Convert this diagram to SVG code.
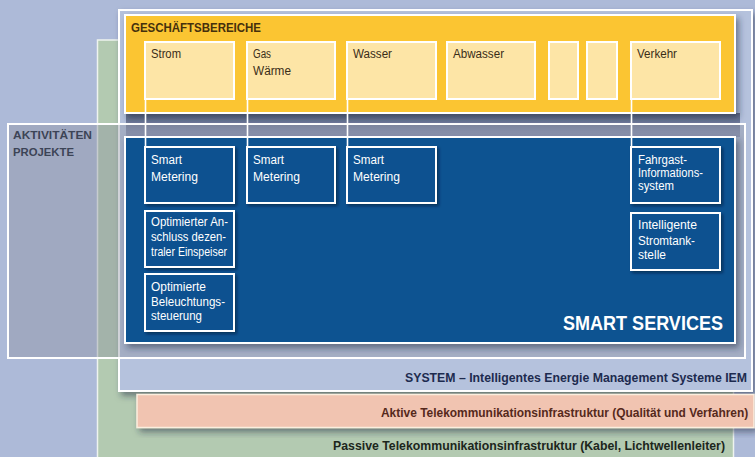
<svg xmlns="http://www.w3.org/2000/svg" width="755" height="457" viewBox="0 0 755 457">
<defs>
<filter id="sh" x="-10%" y="-10%" width="130%" height="140%">
<feDropShadow dx="3" dy="4" stdDeviation="3" flood-color="#1a2540" flood-opacity="0.5"/>
</filter>
<filter id="shs" x="-10%" y="-10%" width="130%" height="130%">
<feDropShadow dx="2" dy="2" stdDeviation="1.5" flood-color="#001530" flood-opacity="0.55"/>
</filter>
<linearGradient id="band" x1="0" y1="0" x2="0" y2="1">
<stop offset="0" stop-color="#5d6884"/>
<stop offset="1" stop-color="#8a95b8"/>
</linearGradient>
</defs>
<style>
.lay{stroke:#ffffff;stroke-width:2}
.biz{fill:#fde5a6;stroke:#ffffff;stroke-width:2}
.svc{fill:#0b5190;stroke:#ffffff;stroke-width:2;filter:url(#shs)}
.conn{stroke:#ffffff;stroke-width:1.6;fill:none}
text{font-family:"Liberation Sans",Arial,sans-serif}
.bt{font-size:12.5px;fill:#3a2d18}
.st{font-size:12.5px;fill:#ffffff}
.hd{font-weight:bold}
</style>
<rect width="755" height="457" fill="#adbad8"/>
<g id="passive">
<rect x="97.5" y="40" width="636" height="430" fill="#b3cab1" stroke="#eef3ee" stroke-width="1.5"/>
<text x="725" y="450" text-anchor="end" class="hd" font-size="12.5" fill="#1c261c" textLength="392" lengthAdjust="spacingAndGlyphs">Passive Telekommunikationsinfrastruktur (Kabel, Lichtwellenleiter)</text>
</g>
<g id="system">
<rect x="119" y="10" width="633" height="381" class="lay" fill="#b5c2dd" filter="url(#sh)"/>
<rect x="126" y="113" width="614" height="24" fill="url(#band)"/>
<text x="747" y="382" text-anchor="end" class="hd" font-size="12.5" fill="#1d2b4f" textLength="342" lengthAdjust="spacingAndGlyphs">SYSTEM – Intelligentes Energie Management Systeme IEM</text>
</g>
<g id="aktive">
<rect x="137" y="394.5" width="617" height="33" fill="#f1c4b1" stroke="#fbeede" stroke-width="1.5" filter="url(#sh)"/>
<g transform="translate(381,417) scale(0.86,1)">
<text x="0" y="0" class="hd" font-size="12.5" fill="#55291c" textLength="427" lengthAdjust="spacingAndGlyphs">Aktive Telekommunikationsinfrastruktur (Qualität und Verfahren)</text>
</g>
</g>
<g id="aktivitaeten">
<rect x="8" y="124" width="737" height="234" fill="#8c929f" fill-opacity="0.4" stroke="#ffffff" stroke-width="2"/>
<text x="13" y="139" class="hd" font-size="11.5" fill="#3c4456" textLength="79" lengthAdjust="spacingAndGlyphs">AKTIVITÄTEN</text>
<text x="13" y="156" class="hd" font-size="11.5" fill="#3c4456" textLength="61" lengthAdjust="spacingAndGlyphs">PROJEKTE</text>
</g>
<g id="geschaeftsbereiche">
<rect x="125" y="15" width="610" height="98" class="lay" fill="#fbc533" filter="url(#sh)"/>
<text x="131" y="32" class="hd" font-size="12.5" fill="#45300d" textLength="130" lengthAdjust="spacingAndGlyphs">GESCHÄFTSBEREICHE</text>
</g>
<g id="smart-services">
<rect x="125" y="137" width="610" height="206" class="lay" fill="#0b5391" filter="url(#sh)"/>
<text x="723" y="330" text-anchor="end" class="hd" font-size="21" fill="#ffffff" textLength="160" lengthAdjust="spacingAndGlyphs">SMART SERVICES</text>
</g>
<g id="connectors">
<line class="conn" x1="145.5" y1="99" x2="145.5" y2="147"/>
<line class="conn" x1="247.5" y1="99" x2="247.5" y2="147"/>
<line class="conn" x1="347.5" y1="99" x2="347.5" y2="147"/>
<line class="conn" x1="631.5" y1="99" x2="631.5" y2="147"/>
</g>
<g id="strom"><rect class="biz" x="145" y="42" width="89" height="57"/><text class="bt" x="151" y="58" textLength="30" lengthAdjust="spacingAndGlyphs">Strom</text></g>
<g id="gas"><rect class="biz" x="247" y="42" width="88" height="57"/><text class="bt" x="253" y="58" textLength="18" lengthAdjust="spacingAndGlyphs">Gas</text><text class="bt" x="253" y="75" textLength="38" lengthAdjust="spacingAndGlyphs">Wärme</text></g>
<g id="wasser"><rect class="biz" x="347" y="42" width="89" height="57"/><text class="bt" x="353" y="58" textLength="39" lengthAdjust="spacingAndGlyphs">Wasser</text></g>
<g id="abwasser"><rect class="biz" x="447" y="42" width="88" height="57"/><text class="bt" x="453" y="58" textLength="51" lengthAdjust="spacingAndGlyphs">Abwasser</text></g>
<g id="leer1"><rect class="biz" x="549" y="42" width="29" height="57"/></g>
<g id="leer2"><rect class="biz" x="587" y="42" width="30" height="57"/></g>
<g id="verkehr"><rect class="biz" x="631" y="42" width="89" height="57"/><text class="bt" x="637" y="58" textLength="40" lengthAdjust="spacingAndGlyphs">Verkehr</text></g>
<g id="sm-strom"><rect class="svc" x="145" y="147" width="89" height="56"/><text class="st" x="151" y="164" textLength="31" lengthAdjust="spacingAndGlyphs">Smart</text><text class="st" x="151" y="181" textLength="47" lengthAdjust="spacingAndGlyphs">Metering</text></g>
<g id="anschluss"><rect class="svc" x="145" y="211" width="89" height="56"/><text class="st" x="151" y="226" textLength="77" lengthAdjust="spacingAndGlyphs">Optimierter An-</text><text class="st" x="151" y="241" textLength="75" lengthAdjust="spacingAndGlyphs">schluss dezen-</text><text class="st" x="151" y="256" textLength="76" lengthAdjust="spacingAndGlyphs">traler Einspeiser</text></g>
<g id="beleuchtung"><rect class="svc" x="145" y="274" width="89" height="57"/><text class="st" x="151" y="291" textLength="55" lengthAdjust="spacingAndGlyphs">Optimierte</text><text class="st" x="151" y="306" textLength="74" lengthAdjust="spacingAndGlyphs">Beleuchtungs-</text><text class="st" x="151" y="320" textLength="51" lengthAdjust="spacingAndGlyphs">steuerung</text></g>
<g id="sm-gas"><rect class="svc" x="247" y="147" width="88" height="56"/><text class="st" x="253" y="164" textLength="31" lengthAdjust="spacingAndGlyphs">Smart</text><text class="st" x="253" y="181" textLength="47" lengthAdjust="spacingAndGlyphs">Metering</text></g>
<g id="sm-wasser"><rect class="svc" x="347" y="147" width="89" height="56"/><text class="st" x="353" y="164" textLength="31" lengthAdjust="spacingAndGlyphs">Smart</text><text class="st" x="353" y="181" textLength="47" lengthAdjust="spacingAndGlyphs">Metering</text></g>
<g id="fahrgast"><rect class="svc" x="631" y="147" width="89" height="56"/><text class="st" x="638" y="164" textLength="49" lengthAdjust="spacingAndGlyphs">Fahrgast-</text><text class="st" x="638" y="177" textLength="65" lengthAdjust="spacingAndGlyphs">Informations-</text><text class="st" x="638" y="190" textLength="36" lengthAdjust="spacingAndGlyphs">system</text></g>
<g id="stromtankstelle"><rect class="svc" x="631" y="213" width="89" height="57"/><text class="st" x="638" y="229" textLength="59" lengthAdjust="spacingAndGlyphs">Intelligente</text><text class="st" x="638" y="245" textLength="57" lengthAdjust="spacingAndGlyphs">Stromtank-</text><text class="st" x="638" y="259" textLength="28" lengthAdjust="spacingAndGlyphs">stelle</text></g>
</svg>
